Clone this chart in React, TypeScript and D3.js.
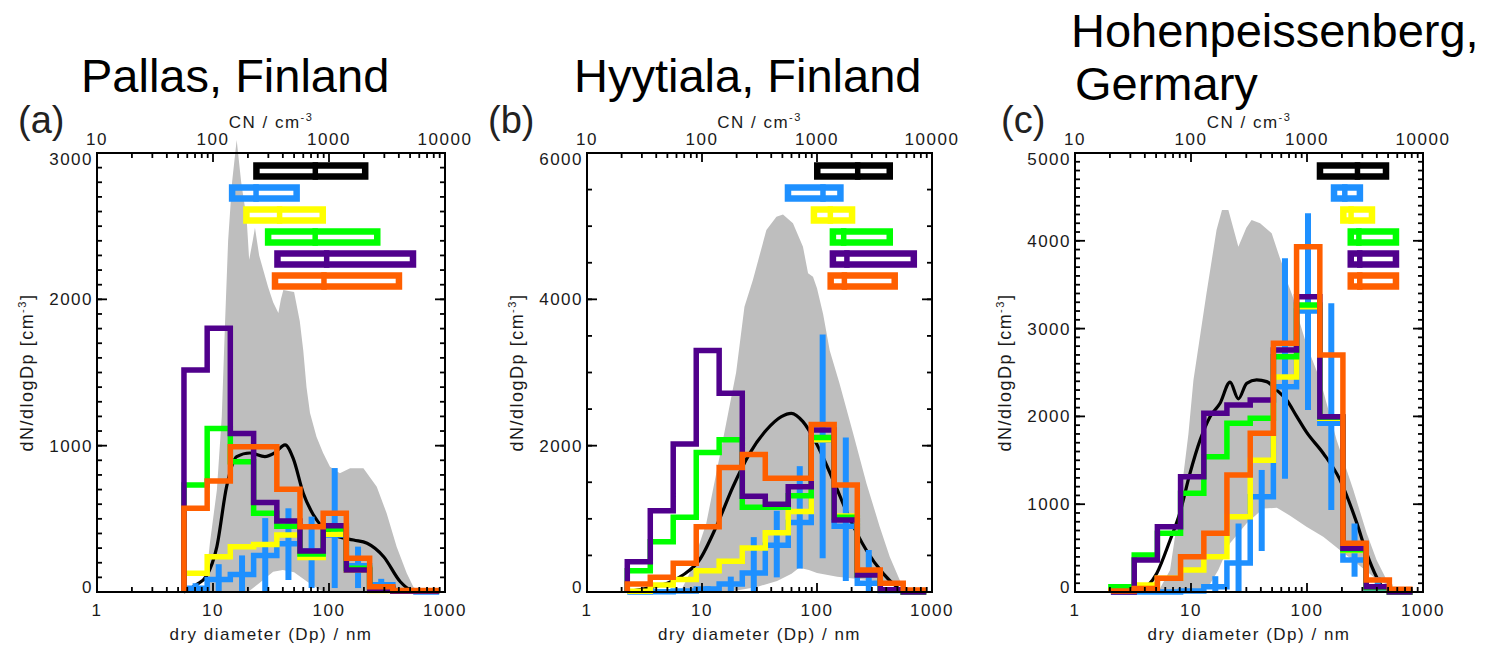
import React from 'react';
import * as d3 from 'd3';

const W = 1497;
const H = 646;
const FONT = "'Liberation Sans', Arial, Helvetica, sans-serif";

// Size-bin edges and centres (nm), five bins per decade
const binEdgesAB = [2.24, 3.55, 5.62, 8.91, 14.1, 22.4, 35.5, 56.2, 89.1, 141, 224, 355, 562, 891];
const binCentersAB = [2.82, 4.47, 7.08, 11.2, 17.8, 28.2, 44.7, 70.8, 112, 178, 282, 447, 708];
const binEdgesC = [2.04, 3.24, 5.13, 8.13, 12.9, 20.4, 32.4, 51.3, 81.3, 129, 204, 324, 513, 813];
const binCentersC = [2.57, 4.07, 6.46, 10.2, 16.2, 25.7, 40.7, 64.6, 102, 162, 257, 407, 646];

const xTicksBottom = [1, 10, 100, 1000];
const xTicksTop = [10, 100, 1000, 10000];

const seriesColors = {
  black: '#000000',
  blue: '#1e90ff',
  yellow: '#ffff00',
  green: '#00ff00',
  purple: '#50008c',
  orange: '#ff5f00',
  grey: '#bebebe',
};
const cnRows = ['black', 'blue', 'yellow', 'green', 'purple', 'orange'];

// ---- Pallas, Finland ----
const pallasBlue = [null, null, 25, 85, 120, 250, 330, 280, 390, 180, 50, 5, 0];
const pallasBlueLo = [null, null, 0, 0, 0, 0, 82, 27, 27, 27, 0, null, null];
const pallasBlueHi = [null, null, 60, 190, 250, 505, 572, 515, 847, 310, 90, null, null];
const pallasYellow = [null, null, 128, 241, 310, 325, 390, 235, 395, 150, 10, 5, 5];
const pallasGreen = [null, null, 731, 1118, 890, 538, 450, 260, 430, 162, 20, 5, 5];
const pallasPurple = [null, null, 1517, 1802, 1084, 612, 486, 281, 452, 150, 25, 5, 5];
const pallasOrange = [null, null, 572, 758, 993, 993, 702, 446, 538, 230, 36, 10, 10];
const pallasMedianD = [5.6, 7.2, 8.8, 10.8, 13.1, 16, 20.8, 28, 34, 41.8, 49.3, 60, 73, 89, 110, 163, 213, 296, 412, 501, 616];
const pallasMedianV = [0, 50, 110, 310, 720, 925, 950, 925, 950, 1005, 910, 675, 530, 440, 390, 355, 333, 241, 70, 15, 0];
const pallasUpperD = [8.5, 9.4, 10.8, 11.9, 12.7, 13.5, 14.6, 16.0, 17.5, 19.5, 20.5, 22, 23, 25, 29.8, 33, 36.6, 38.5, 40.4, 50, 56, 60, 64, 68.6, 78, 89, 102, 124, 152, 198, 258, 314, 383, 468, 533, 600];
const pallasUpperV = [0, 333, 697, 1198, 1838, 2400, 2800, 3089, 2800, 2550, 2270, 2400, 2490, 2300, 2086, 1980, 1906, 2000, 2064, 2050, 1850, 1650, 1400, 1223, 1061, 950, 856, 811, 845, 845, 720, 538, 310, 128, 36, 0];
const pallasLowerD = [8.5, 20, 25, 33, 40, 50, 65, 85, 100, 600];
const pallasLowerV = [0, 0, 60, 139, 150, 135, 70, 10, 0, 0];
const pallasCnLo = [222, 137, 182, 280, 337, 321];
const pallasCnMed = [762, 235, 375, 760, 955, 905];
const pallasCnHi = [2188, 561, 942, 2780, 5650, 4276];

// ---- Hyytiala, Finland ----
const hyyBlue = [0, 5, 15, 40, 110, 260, 640, 950, 2077, 900, 120, 20, 0];
const hyyBlueLo = [null, null, null, 0, 0, 0, 200, 320, 460, 150, 0, null, null];
const hyyBlueHi = [null, null, null, 80, 210, 750, 1110, 1720, 3520, 2110, 574, null, null];
const hyyYellow = [10, 96, 170, 290, 420, 600, 810, 1100, 2080, 1040, 250, 30, 0];
const hyyGreen = [290, 688, 1020, 1905, 2080, 1160, 1160, 1315, 2110, 1020, 240, 30, 0];
const hyyPurple = [414, 1111, 2023, 3300, 2715, 1310, 1200, 1439, 2214, 984, 232, 30, 0];
const hyyOrange = [110, 200, 392, 893, 1700, 1880, 1554, 1554, 2290, 1462, 300, 119, 27];
const hyyMedianD = [2.24, 3.5, 5, 6.84, 9.5, 13.3, 18.6, 26, 36.3, 49, 59.8, 75.5, 98.6, 138, 192, 268, 375, 490, 560];
const hyyMedianV = [0, 60, 120, 232, 437, 893, 1439, 1895, 2214, 2397, 2442, 2328, 2032, 1531, 1007, 574, 255, 73, 0];
const hyyUpperD = [6.5, 7.8, 10.9, 15.2, 19.8, 23.4, 27.7, 36.3, 44.4, 50.6, 61.8, 75.5, 83.6, 92.3, 100, 113, 129, 157, 206, 269, 351, 429, 524, 598, 620];
const hyyUpperV = [0, 255, 939, 2077, 3000, 3900, 4264, 4947, 5129, 5160, 5039, 4720, 4355, 4310, 4150, 3800, 3300, 2850, 2170, 1486, 893, 483, 164, 27, 0];
const hyyLowerD = [6.5, 14, 20, 30, 45, 60, 70, 85, 100, 150, 250, 450, 560, 620];
const hyyLowerV = [0, 0, 20, 70, 150, 250, 330, 300, 260, 210, 170, 120, 60, 0];
const hyyCnLo = [942, 524, 881, 1288, 1288, 1232];
const hyyCnMed = [2259, 1127, 1306, 1706, 1820, 1730];
const hyyCnHi = [4580, 1706, 2153, 4580, 7413, 5058];

// ---- Hohenpeissenberg, Germany ----
const hohBlue = [0, 0, 0, 10, 60, 330, 1086, 2338, 3200, 1921, 364, 40, 0];
const hohBlueLo = [null, null, null, null, 0, 0, 467, 1290, 2073, 934, 174, 0, null];
const hohBlueHi = [null, null, null, null, 180, 780, 1390, 3800, 4313, 3288, 780, 170, null];
const hohYellow = [10, 80, 156, 250, 402, 858, 1500, 2450, 3250, 1980, 474, 50, 0];
const hohGreen = [61, 421, 668, 1124, 1541, 1921, 1978, 2680, 3269, 1990, 480, 50, 0];
const hohPurple = [0, 364, 744, 1313, 2035, 2130, 2187, 2756, 3364, 1997, 497, 60, 0];
const hohOrange = [10, 40, 156, 402, 668, 1333, 1807, 2832, 3933, 2699, 554, 137, 30];
const hohMedianD = [3.6, 5.06, 6.6, 8.0, 9.8, 12.0, 14.6, 17.8, 21.7, 25.6, 30.2, 36.8, 44.9, 54.8, 66.8, 81.5, 99, 138, 192, 268, 327, 398, 455, 520];
const hohMedianV = [0, 210, 590, 897, 1353, 1733, 1997, 2149, 2390, 2200, 2377, 2415, 2396, 2300, 2187, 2000, 1820, 1580, 1280, 790, 440, 170, 40, 0];
const hohUpperD = [4.6, 5.4, 6.6, 8.0, 9.5, 10.5, 13.6, 16.6, 18.5, 21, 25.6, 30, 33.3, 39.4, 49.6, 58.5, 62.5, 66.8, 76, 87, 100, 130, 180, 251, 327, 398, 486, 555, 600];
const hohUpperV = [0, 40, 250, 1000, 1800, 2415, 3402, 4123, 4351, 4351, 3933, 4150, 4237, 4199, 4085, 3800, 3700, 3550, 3350, 3060, 2800, 2415, 1731, 1162, 668, 364, 137, 20, 0];
const hohLowerD = [4.6, 12, 14, 17.2, 21.7, 30.2, 42, 55, 71, 99, 138, 192, 268, 373, 520, 600];
const hohLowerV = [0, 0, 50, 250, 554, 782, 950, 960, 870, 744, 630, 478, 327, 174, 60, 0];
const hohCnLo = [1213, 1603, 1928, 2234, 2234, 2234];
const hohCnMed = [2723, 2118, 2399, 2800, 2850, 2850];
const hohCnHi = [5117, 3048, 3873, 6237, 6237, 6237];

type Vals = (number | null)[];
type PanelSpec = {
  tag: string;
  tagX: number;
  left: number;
  right: number;
  yMax: number;
  yMajor: number;
  yMinor: number;
  edges: number[];
  centers: number[];
  blue: Vals;
  blueLo: Vals;
  blueHi: Vals;
  yellow: Vals;
  green: Vals;
  purple: Vals;
  orange: Vals;
  medianD: number[];
  medianV: number[];
  upperD: number[];
  upperV: number[];
  lowerD: number[];
  lowerV: number[];
  cnLo: number[];
  cnMed: number[];
  cnHi: number[];
};

const panels: PanelSpec[] = [
  {
    tag: '(a)', tagX: 18, left: 97, right: 445, yMax: 3000, yMajor: 1000, yMinor: 100,
    edges: binEdgesAB, centers: binCentersAB,
    blue: pallasBlue, blueLo: pallasBlueLo, blueHi: pallasBlueHi,
    yellow: pallasYellow, green: pallasGreen, purple: pallasPurple, orange: pallasOrange,
    medianD: pallasMedianD, medianV: pallasMedianV,
    upperD: pallasUpperD, upperV: pallasUpperV, lowerD: pallasLowerD, lowerV: pallasLowerV,
    cnLo: pallasCnLo, cnMed: pallasCnMed, cnHi: pallasCnHi,
  },
  {
    tag: '(b)', tagX: 488, left: 587, right: 932, yMax: 6000, yMajor: 2000, yMinor: 500,
    edges: binEdgesAB, centers: binCentersAB,
    blue: hyyBlue, blueLo: hyyBlueLo, blueHi: hyyBlueHi,
    yellow: hyyYellow, green: hyyGreen, purple: hyyPurple, orange: hyyOrange,
    medianD: hyyMedianD, medianV: hyyMedianV,
    upperD: hyyUpperD, upperV: hyyUpperV, lowerD: hyyLowerD, lowerV: hyyLowerV,
    cnLo: hyyCnLo, cnMed: hyyCnMed, cnHi: hyyCnHi,
  },
  {
    tag: '(c)', tagX: 1001, left: 1075, right: 1423, yMax: 5000, yMajor: 1000, yMinor: 100,
    edges: binEdgesC, centers: binCentersC,
    blue: hohBlue, blueLo: hohBlueLo, blueHi: hohBlueHi,
    yellow: hohYellow, green: hohGreen, purple: hohPurple, orange: hohOrange,
    medianD: hohMedianD, medianV: hohMedianV,
    upperD: hohUpperD, upperV: hohUpperV, lowerD: hohLowerD, lowerV: hohLowerV,
    cnLo: hohCnLo, cnMed: hohCnMed, cnHi: hohCnHi,
  },
];

const TOP = 153;
const BOTTOM = 592;
const TEXT = '#1a1a1a';

function stepPoints(edges: number[], vals: Vals): [number, number][] {
  const pts: [number, number][] = [];
  vals.forEach((v, i) => {
    if (v == null) return;
    if (pts.length === 0) pts.push([edges[i], 0]);
    pts.push([edges[i], v]);
    pts.push([edges[i + 1], v]);
  });
  return pts;
}

function Panel({ p }: { p: PanelSpec }) {
  const x = d3.scaleLog().domain([1, 1000]).range([p.left, p.right]);
  const cn = d3.scaleLog().domain([10, 10000]).range([p.left, p.right]);
  const y = d3.scaleLinear().domain([0, p.yMax]).range([BOTTOM, TOP]);
  const row = d3.scaleBand<string>().domain(cnRows).range([160, 292]).paddingInner(0);
  const cx = (p.left + p.right) / 2;
  const cy = (TOP + BOTTOM) / 2;

  const line = d3.line<[number, number]>().x(d => x(d[0])).y(d => y(d[1]));
  const smooth = d3.line<[number, number]>().x(d => x(d[0])).y(d => y(d[1])).curve(d3.curveMonotoneX);
  const closed = d3.line<[number, number]>().x(d => x(d[0])).y(d => y(d[1])).curve(d3.curveLinearClosed);

  const upper: [number, number][] = p.upperD.map((d, i) => [d, p.upperV[i]]);
  const lower: [number, number][] = p.lowerD.map((d, i) => [d, p.lowerV[i]]);
  const envelope = closed([...upper, ...lower.slice().reverse()]) || '';
  const median = smooth(p.medianD.map((d, i) => [d, p.medianV[i]] as [number, number])) || '';

  const steps: { key: string; vals: Vals }[] = [
    { key: 'blue', vals: p.blue },
    { key: 'yellow', vals: p.yellow },
    { key: 'green', vals: p.green },
    { key: 'purple', vals: p.purple },
    { key: 'orange', vals: p.orange },
  ];

  const yMinorTicks = d3.range(0, p.yMax + 1, p.yMinor);
  const yMajorTicks = d3.range(0, p.yMax + 1, p.yMajor);
  const xMinor: number[] = [];
  [1, 10, 100].forEach(dec => d3.range(2, 10).forEach(m => xMinor.push(m * dec)));

  const boxH = 17.5;
  const sw = 6.5;

  return (
    <g>
      {/* spread of observed distributions */}
      <path d={envelope} fill={seriesColors.grey} stroke="none" />
      {/* median observed distribution */}
      <path d={median} fill="none" stroke={seriesColors.black} strokeWidth={3.2} strokeLinejoin="round" />

      {/* blue variability bars */}
      {p.centers.map((c, i) => {
        const lo = p.blueLo[i];
        const hi = p.blueHi[i];
        if (lo == null || hi == null) return null;
        return (
          <line key={'eb' + i} x1={x(c)} x2={x(c)} y1={y(lo)} y2={y(hi)}
            stroke={seriesColors.blue} strokeWidth={6} />
        );
      })}

      {steps.map(s => (
        <path key={s.key} d={line(stepPoints(p.edges, s.vals)) || ''} fill="none"
          stroke={(seriesColors as any)[s.key]} strokeWidth={5.5}
          strokeLinejoin="miter" strokeLinecap="butt" />
      ))}

      {/* CN ranges per row */}
      {cnRows.map((k, i) => {
        const yc = (row(k) || 0) + row.bandwidth() / 2;
        const x0 = cn(p.cnLo[i]);
        const x1 = cn(p.cnHi[i]);
        const xm = cn(p.cnMed[i]);
        const col = (seriesColors as any)[k];
        return (
          <g key={'cn' + k}>
            <rect x={x0 + sw / 2} y={yc - boxH / 2 + sw / 2} width={x1 - x0 - sw} height={boxH - sw}
              fill="none" stroke={col} strokeWidth={sw} />
            <line x1={xm} x2={xm} y1={yc - boxH / 2} y2={yc + boxH / 2} stroke={col} strokeWidth={5.5} />
          </g>
        );
      })}

      {/* frame */}
      <rect x={p.left} y={TOP} width={p.right - p.left} height={BOTTOM - TOP}
        fill="none" stroke="#000" strokeWidth={2} />

      {/* y ticks, both sides */}
      {yMinorTicks.map(v => (
        <g key={'ym' + v}>
          <line x1={p.left} x2={p.left + 5} y1={y(v)} y2={y(v)} stroke="#000" strokeWidth={1.8} />
          <line x1={p.right} x2={p.right - 5} y1={y(v)} y2={y(v)} stroke="#000" strokeWidth={1.8} />
        </g>
      ))}
      {yMajorTicks.map(v => (
        <g key={'yM' + v}>
          <line x1={p.left} x2={p.left + 10} y1={y(v)} y2={y(v)} stroke="#000" strokeWidth={1.8} />
          <line x1={p.right} x2={p.right - 10} y1={y(v)} y2={y(v)} stroke="#000" strokeWidth={1.8} />
          <text x={p.left - 4} y={Math.min(Math.max(y(v), TOP + 6), BOTTOM - 5) + 6}
            textAnchor="end" fontFamily={FONT} fontSize={17} letterSpacing={1.5} fill={TEXT}>
            {v}
          </text>
        </g>
      ))}

      {/* x ticks, bottom (diameter) and top (CN) */}
      {xMinor.map(v => (
        <g key={'xm' + v}>
          <line x1={x(v)} x2={x(v)} y1={BOTTOM} y2={BOTTOM - 5} stroke="#000" strokeWidth={1.8} />
          <line x1={x(v)} x2={x(v)} y1={TOP} y2={TOP + 5} stroke="#000" strokeWidth={1.8} />
        </g>
      ))}
      {xTicksBottom.map(v => (
        <g key={'xb' + v}>
          <line x1={x(v)} x2={x(v)} y1={BOTTOM} y2={BOTTOM - 9} stroke="#000" strokeWidth={1.8} />
          <text x={x(v)} y={616} textAnchor="middle" fontFamily={FONT} fontSize={17}
            letterSpacing={1.5} fill={TEXT}>{v}</text>
        </g>
      ))}
      {xTicksTop.map(v => (
        <g key={'xt' + v}>
          <line x1={cn(v)} x2={cn(v)} y1={TOP} y2={TOP + 9} stroke="#000" strokeWidth={1.8} />
          <text x={cn(v)} y={145} textAnchor="middle" fontFamily={FONT} fontSize={17}
            letterSpacing={1.5} fill={TEXT}>{v}</text>
        </g>
      ))}

      {/* axis titles */}
      <text x={cx} y={128} textAnchor="middle" fontFamily={FONT} fontSize={17} letterSpacing={1.5} fill={TEXT}>
        CN / cm<tspan dy={-7} fontSize={11}>-3</tspan>
      </text>
      <text x={cx} y={640} textAnchor="middle" fontFamily={FONT} fontSize={17} letterSpacing={1.5} fill={TEXT}>
        dry diameter (Dp) / nm
      </text>
      <text transform={`translate(${p.left - 64},${cy}) rotate(-90)`} textAnchor="middle"
        fontFamily={FONT} fontSize={18} letterSpacing={1.5} fill={TEXT}>
        dN/dlogDp [cm<tspan dy={-7} fontSize={11}>-3</tspan><tspan dy={7}>]</tspan>
      </text>

      {/* panel tag */}
      <text x={p.tagX} y={133} fontFamily={FONT} fontSize={38} fill="#222">{p.tag}</text>
    </g>
  );
}

export default function App() {
  return (
    <svg width={W} height={H} viewBox={`0 0 ${W} ${H}`}
      style={{ position: 'absolute', left: 0, top: 0, background: '#fff' }}>
      <rect x={0} y={0} width={W} height={H} fill="#fff" />
      {panels.map(p => <Panel key={p.tag} p={p} />)}
      <text x={81} y={92} fontFamily={FONT} fontSize={47} fill="#000">Pallas, Finland</text>
      <text x={574} y={92} fontFamily={FONT} fontSize={47} fill="#000">Hyytiala, Finland</text>
      <text x={1071} y={47} fontFamily={FONT} fontSize={47} fill="#000">Hohenpeissenberg,</text>
      <text x={1075} y={100} fontFamily={FONT} fontSize={47} fill="#000">Germary</text>
    </svg>
  );
}
